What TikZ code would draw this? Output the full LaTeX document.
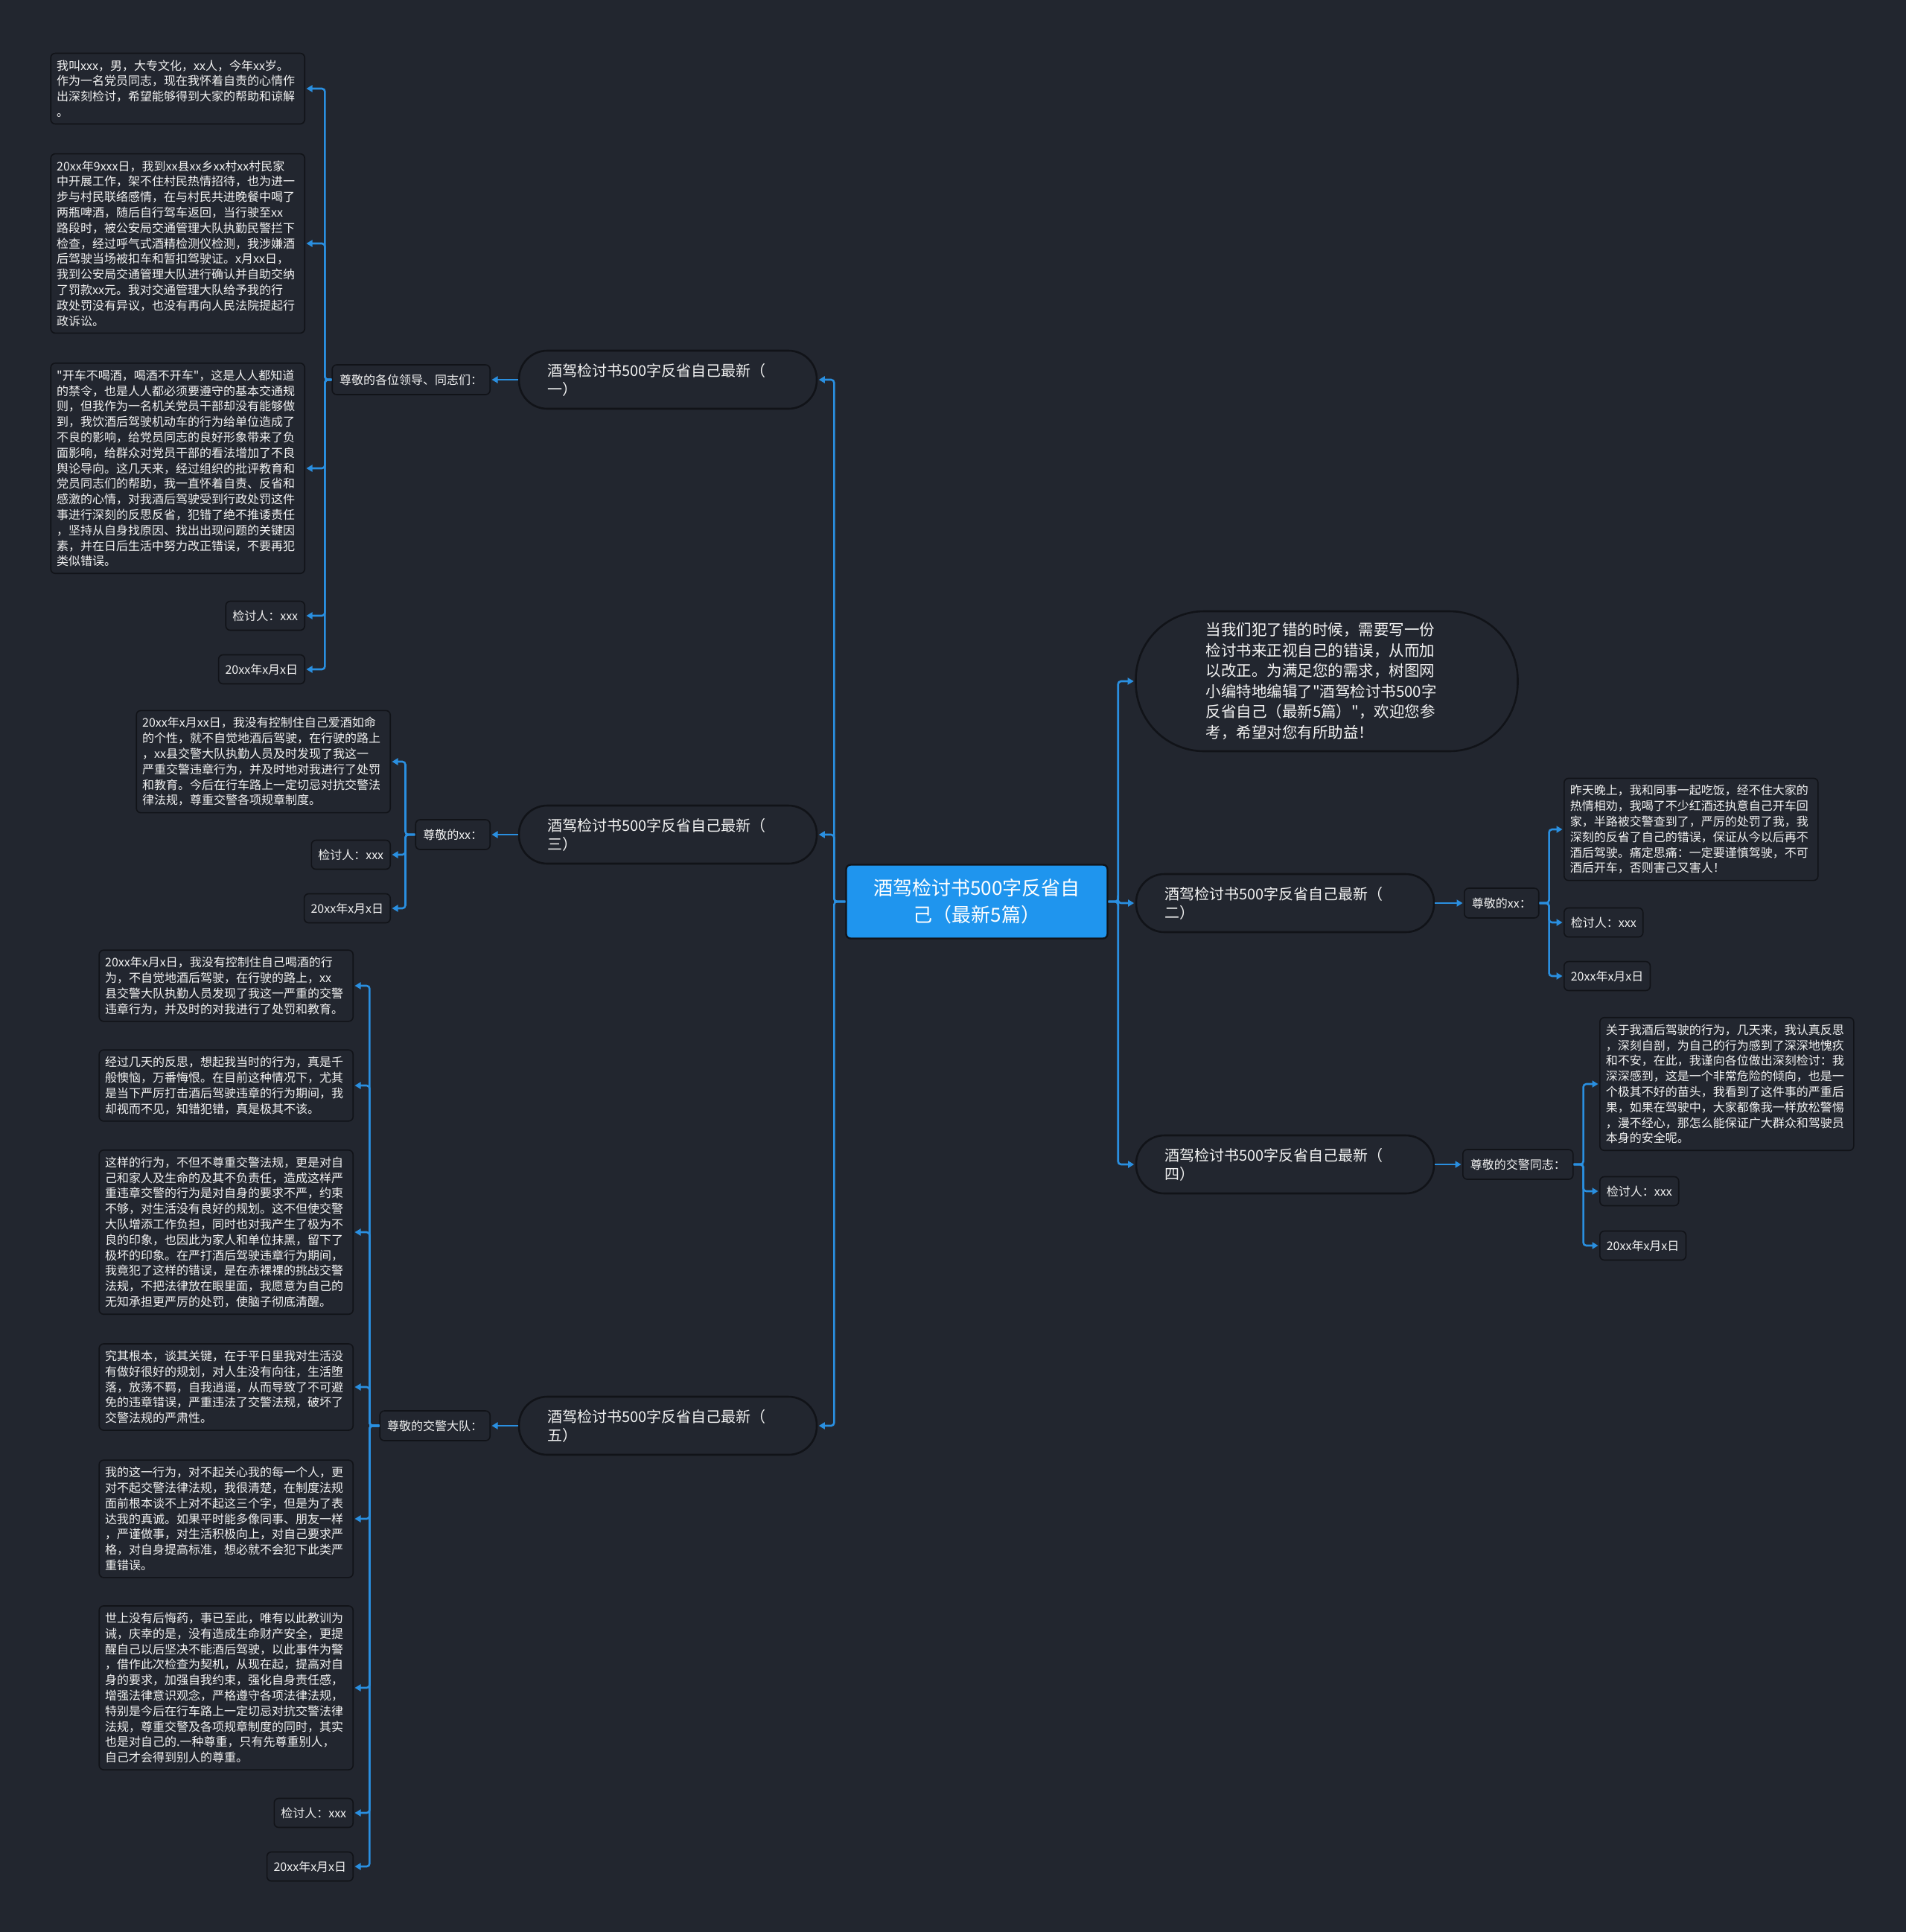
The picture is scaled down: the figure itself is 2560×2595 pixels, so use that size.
\documentclass[tikz,border=0pt]{standalone}
\usepackage{fontspec}
\setmainfont{Noto Sans CJK SC}[Ligatures=TeXOff]
\usetikzlibrary{arrows.meta}
\definecolor{bg}{HTML}{22262F}
\definecolor{boxedge}{HTML}{111318}
\definecolor{lineblue}{HTML}{2A8FE0}
\definecolor{mainblue}{HTML}{1F95EE}
\definecolor{txt}{HTML}{F2F2F2}
\tikzset{
  leaf/.style={draw=boxedge, line width=1.6pt, fill=bg, rounded corners=6pt, text=txt,
    font=\fontsize{16}{20.8}\selectfont, align=left, inner xsep=8pt, inner ysep=9pt},
  longleaf/.style={leaf, text width=325pt},
  shortleaf/.style={leaf, inner xsep=9pt, minimum height=39pt},
  labelbox/.style={leaf, inner xsep=10pt, minimum height=40pt},
  pill/.style={draw=boxedge, line width=2.6pt, fill=bg, rounded corners=38pt, text=txt,
    font=\fontsize{20}{25}\selectfont, align=left, text width=324pt, inner xsep=38pt,
    minimum height=78pt},
  sumpill/.style={draw=boxedge, line width=2.6pt, fill=bg, rounded corners=92pt, text=txt,
    font=\fontsize{20.5}{27.6}\selectfont, align=left, text width=325pt, inner xsep=94pt,
    minimum height=188pt},
  rootbox/.style={draw=boxedge, line width=2.4pt, fill=mainblue, rounded corners=6pt, text=white,
    font=\fontsize{26}{36}\selectfont, align=center, minimum width=351pt, minimum height=99pt},
  conn/.style={draw=lineblue, line width=2.6pt, rounded corners=4pt,
    -{Triangle[length=8pt,width=9pt]}, shorten >=1.5pt}
}
\begin{document}
\begin{tikzpicture}[x=1pt,y=-1pt]
\useasboundingbox[fill=bg] (0,0) rectangle (2560,2595);

% root
\node[rootbox] (root) at (1312,1211) {酒驾检讨书500字反省自\\己（最新5篇）};

% left pills
\node[pill] (p1) at (897,510) {酒驾检讨书500字反省自己最新（\\一）};
\node[pill] (p3) at (897,1121) {酒驾检讨书500字反省自己最新（\\三）};
\node[pill] (p5) at (897,1915) {酒驾检讨书500字反省自己最新（\\五）};
% right pills
\node[sumpill] (sum) at (1782,915) {当我们犯了错的时候，需要写一份\\检讨书来正视自己的错误，从而加\\以改正。为满足您的需求，树图网\\小编特地编辑了"酒驾检讨书500字\\反省自己（最新5篇）"，欢迎您参\\考，希望对您有所助益！};
\node[pill] (p2) at (1726,1213) {酒驾检讨书500字反省自己最新（\\二）};
\node[pill] (p4) at (1726,1564) {酒驾检讨书500字反省自己最新（\\四）};

% labels
\node[labelbox, anchor=east] (l1) at (659,510) {尊敬的各位领导、同志们：};
\node[labelbox, anchor=east] (l3) at (659,1121) {尊敬的xx：};
\node[labelbox, anchor=east] (l5) at (659,1915) {尊敬的交警大队：};
\node[labelbox, anchor=west] (l2) at (1966,1213) {尊敬的xx：};
\node[labelbox, anchor=west] (l4) at (1964,1564) {尊敬的交警同志：};

% branch one leaves
\node[longleaf, anchor=east] (a1) at (410,119) {我叫xxx，男，大专文化，xx人，今年xx岁。\\作为一名党员同志，现在我怀着自责的心情作\\出深刻检讨，希望能够得到大家的帮助和谅解\\。};
\node[longleaf, anchor=east] (a2) at (410,327) {20xx年9xxx日，我到xx县xx乡xx村xx村民家\\中开展工作，架不住村民热情招待，也为进一\\步与村民联络感情，在与村民共进晚餐中喝了\\两瓶啤酒，随后自行驾车返回，当行驶至xx\\路段时，被公安局交通管理大队执勤民警拦下\\检查，经过呼气式酒精检测仪检测，我涉嫌酒\\后驾驶当场被扣车和暂扣驾驶证。x月xx日，\\我到公安局交通管理大队进行确认并自助交纳\\了罚款xx元。我对交通管理大队给予我的行\\政处罚没有异议，也没有再向人民法院提起行\\政诉讼。};
\node[longleaf, anchor=east] (a3) at (410,629) {"开车不喝酒，喝酒不开车"，这是人人都知道\\的禁令，也是人人都必须要遵守的基本交通规\\则，但我作为一名机关党员干部却没有能够做\\到，我饮酒后驾驶机动车的行为给单位造成了\\不良的影响，给党员同志的良好形象带来了负\\面影响，给群众对党员干部的看法增加了不良\\舆论导向。这几天来，经过组织的批评教育和\\党员同志们的帮助，我一直怀着自责、反省和\\感激的心情，对我酒后驾驶受到行政处罚这件\\事进行深刻的反思反省，犯错了绝不推诿责任\\，坚持从自身找原因、找出出现问题的关键因\\素，并在日后生活中努力改正错误，不要再犯\\类似错误。};
\node[shortleaf, anchor=east] (a4) at (410,827) {检讨人：xxx};
\node[shortleaf, anchor=east] (a5) at (410,899) {20xx年x月x日};

% branch three leaves
\node[longleaf, anchor=east] (c1) at (525,1023) {20xx年x月xx日，我没有控制住自己爱酒如命\\的个性，就不自觉地酒后驾驶，在行驶的路上\\，xx县交警大队执勤人员及时发现了我这一\\严重交警违章行为，并及时地对我进行了处罚\\和教育。今后在行车路上一定切忌对抗交警法\\律法规，尊重交警各项规章制度。};
\node[shortleaf, anchor=east] (c2) at (525,1148) {检讨人：xxx};
\node[shortleaf, anchor=east] (c3) at (525,1220) {20xx年x月x日};

% branch five leaves
\node[longleaf, anchor=east] (e1) at (475,1324) {20xx年x月x日，我没有控制住自己喝酒的行\\为，不自觉地酒后驾驶，在行驶的路上，xx\\县交警大队执勤人员发现了我这一严重的交警\\违章行为，并及时的对我进行了处罚和教育。};
\node[longleaf, anchor=east] (e2) at (475,1458) {经过几天的反思，想起我当时的行为，真是千\\般懊恼，万番悔恨。在目前这种情况下，尤其\\是当下严厉打击酒后驾驶违章的行为期间，我\\却视而不见，知错犯错，真是极其不该。};
\node[longleaf, anchor=east] (e3) at (475,1655) {这样的行为，不但不尊重交警法规，更是对自\\己和家人及生命的及其不负责任，造成这样严\\重违章交警的行为是对自身的要求不严，约束\\不够，对生活没有良好的规划。这不但使交警\\大队增添工作负担，同时也对我产生了极为不\\良的印象，也因此为家人和单位抹黑，留下了\\极坏的印象。在严打酒后驾驶违章行为期间，\\我竟犯了这样的错误，是在赤裸裸的挑战交警\\法规，不把法律放在眼里面，我愿意为自己的\\无知承担更严厉的处罚，使脑子彻底清醒。};
\node[longleaf, anchor=east] (e4) at (475,1863) {究其根本，谈其关键，在于平日里我对生活没\\有做好很好的规划，对人生没有向往，生活堕\\落，放荡不羁，自我逍遥，从而导致了不可避\\免的违章错误，严重违法了交警法规，破坏了\\交警法规的严肃性。};
\node[longleaf, anchor=east] (e5) at (475,2040) {我的这一行为，对不起关心我的每一个人，更\\对不起交警法律法规，我很清楚，在制度法规\\面前根本谈不上对不起这三个字，但是为了表\\达我的真诚。如果平时能多像同事、朋友一样\\，严谨做事，对生活积极向上，对自己要求严\\格，对自身提高标准，想必就不会犯下此类严\\重错误。};
\node[longleaf, anchor=east] (e6) at (475,2267) {世上没有后悔药，事已至此，唯有以此教训为\\诫，庆幸的是，没有造成生命财产安全，更提\\醒自己以后坚决不能酒后驾驶，以此事件为警\\，借作此次检查为契机，从现在起，提高对自\\身的要求，加强自我约束，强化自身责任感，\\增强法律意识观念，严格遵守各项法律法规，\\特别是今后在行车路上一定切忌对抗交警法律\\法规，尊重交警及各项规章制度的同时，其实\\也是对自己的.一种尊重，只有先尊重别人，\\自己才会得到别人的尊重。};
\node[shortleaf, anchor=east] (e7) at (475,2435) {检讨人：xxx};
\node[shortleaf, anchor=east] (e8) at (475,2507) {20xx年x月x日};

% branch two leaves
\node[longleaf, anchor=west] (b1) at (2100,1114) {昨天晚上，我和同事一起吃饭，经不住大家的\\热情相劝，我喝了不少红酒还执意自己开车回\\家，半路被交警查到了，严厉的处罚了我，我\\深刻的反省了自己的错误，保证从今以后再不\\酒后驾驶。痛定思痛：一定要谨慎驾驶，不可\\酒后开车，否则害己又害人！};
\node[shortleaf, anchor=west] (b2) at (2100,1239) {检讨人：xxx};
\node[shortleaf, anchor=west] (b3) at (2100,1311) {20xx年x月x日};

% branch four leaves
\node[longleaf, anchor=west] (d1) at (2148,1456) {关于我酒后驾驶的行为，几天来，我认真反思\\，深刻自剖，为自己的行为感到了深深地愧疚\\和不安，在此，我谨向各位做出深刻检讨：我\\深深感到，这是一个非常危险的倾向，也是一\\个极其不好的苗头，我看到了这件事的严重后\\果，如果在驾驶中，大家都像我一样放松警惕\\，漫不经心，那怎么能保证广大群众和驾驶员\\本身的安全呢。};
\node[shortleaf, anchor=west] (d2) at (2148,1600) {检讨人：xxx};
\node[shortleaf, anchor=west] (d3) at (2148,1673) {20xx年x月x日};

% root connectors
\draw[conn] (root.west) -- ++(-15,0) |- (p1.east);
\draw[conn] (root.west) -- ++(-15,0) |- (p3.east);
\draw[conn] (root.west) -- ++(-15,0) |- (p5.east);
\draw[conn] (root.east) -- ++(13,0) |- (sum.west);
\draw[conn] (root.east) -- ++(13,0) |- (p2.west);
\draw[conn] (root.east) -- ++(13,0) |- (p4.west);

% pill to label
\draw[conn] (p1.west) -- (l1.east);
\draw[conn] (p3.west) -- (l3.east);
\draw[conn] (p5.west) -- (l5.east);
\draw[conn] (p2.east) -- (l2.west);
\draw[conn] (p4.east) -- (l4.west);

% label to leaves
\foreach \n in {a1,a2,a3,a4,a5} \draw[conn] (l1.west) -- ++(-9,0) |- (\n.east);
\foreach \n in {c1,c2,c3} \draw[conn] (l3.west) -- ++(-13,0) |- (\n.east);
\foreach \n in {e1,e2,e3,e4,e5,e6,e7,e8} \draw[conn] (l5.west) -- ++(-13,0) |- (\n.east);
\foreach \n in {b1,b2,b3} \draw[conn] (l2.east) -- ++(13,0) |- (\n.west);
\foreach \n in {d1,d2,d3} \draw[conn] (l4.east) -- ++(13,0) |- (\n.west);
\end{tikzpicture}
\end{document}
